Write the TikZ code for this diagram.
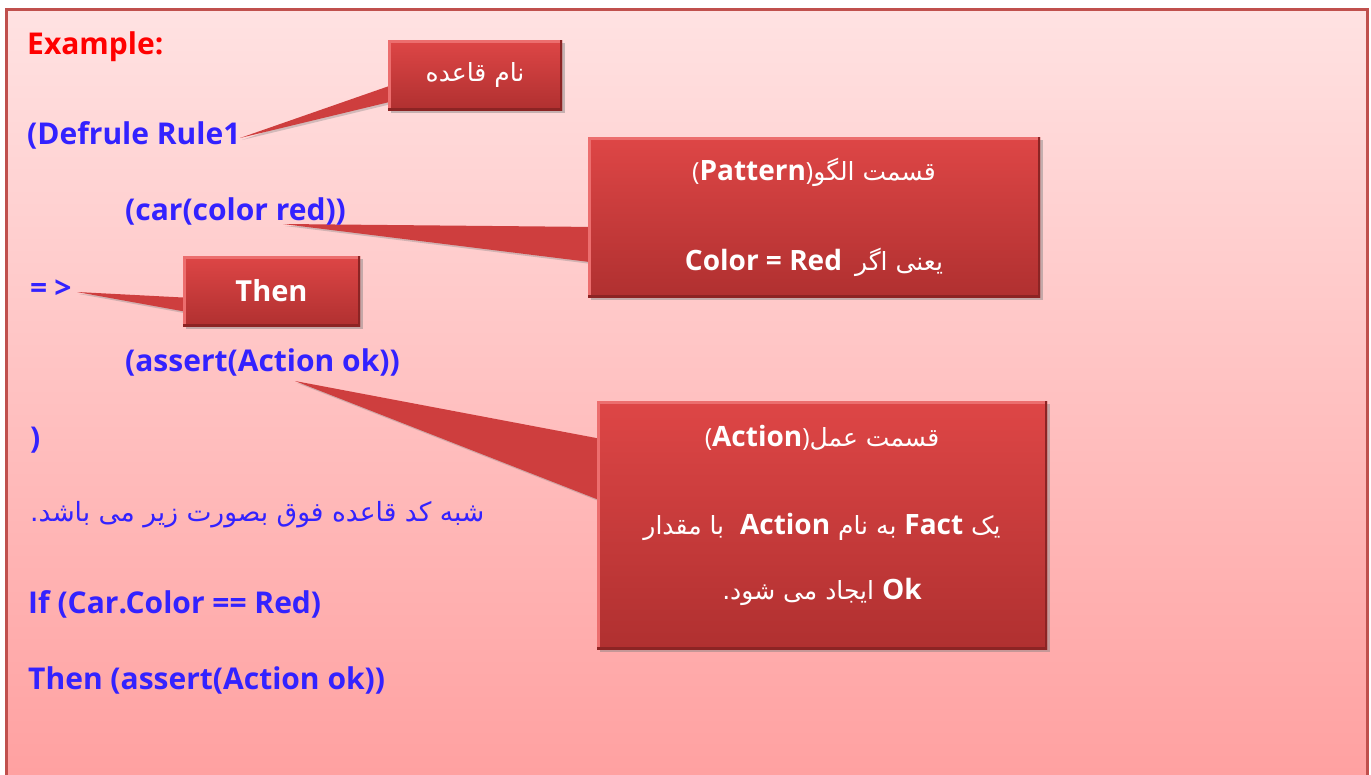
\documentclass[tikz,border=0pt]{standalone}
\usepackage{fontspec}
\setmainfont{Open Sans}
\newfontfamily\farsi[Script=Arabic]{DejaVu Sans}
\TeXXeTstate=1
\usetikzlibrary{shadows,backgrounds}

\definecolor{codeblue}{RGB}{51,34,255}
\definecolor{framered}{RGB}{192,80,77}
\definecolor{pagetop}{RGB}{255,226,226}
\definecolor{pagebot}{RGB}{255,160,160}
\definecolor{boxtop}{RGB}{222,70,70}
\definecolor{boxbot}{RGB}{176,48,48}
\definecolor{bevellight}{RGB}{236,110,110}
\definecolor{beveldark}{RGB}{140,36,36}
\definecolor{wedgered}{RGB}{206,62,62}

\newcommand\lb[1]{{\normalfont\fontsize{28}{29}\selectfont\bfseries #1}}

\tikzset{
  code/.style={anchor=west, inner sep=0pt, text=codeblue,
    font=\fontsize{30}{36}\selectfont\bfseries},
  callout/.style={shade, top color=boxtop, bottom color=boxbot,
    drop shadow={shadow xshift=3pt, shadow yshift=-3pt, opacity=.45},
    text=white, align=center, inner sep=0pt,
    font=\fontsize{25}{29}\selectfont,
    path picture={
      \draw[bevellight, line width=5pt] (path picture bounding box.south west)
        -- (path picture bounding box.north west) -- (path picture bounding box.north east);
      \draw[beveldark, line width=5pt] (path picture bounding box.north east)
        -- (path picture bounding box.south east) -- (path picture bounding box.south west);
    }},
  pointer/.style={fill=wedgered,
    drop shadow={shadow xshift=2pt, shadow yshift=-2pt, opacity=.35}},
}

\begin{document}
\begin{tikzpicture}[x=1pt, y=-1pt]
\useasboundingbox (0,0) rectangle (1371,774);

% the code
\node[code, text=red] (example) at (27,47) {Example:};
\node[code] (defrule) at (27,135) {(Defrule Rule1};
\node[code] (carline) at (125,211) {(car(color red))};
\node[code] (arrow) at (30,289) {=\hspace{7pt}>};
\node[code] (assertline) at (125,362) {(assert(Action ok))};
\node[code] (closeparen) at (30,440) {)};
\node[code, font=\fontsize{26.5}{32}\selectfont] (pseudo) at (30,515)
  {\farsi\beginR شبه کد قاعده فوق بصورت زیر می باشد.\endR};
\node[code] (ifline) at (28,604) {If (Car.Color == Red)};
\node[code] (thenline) at (28,680) {Then (assert(Action ok))};

% callouts
\node[callout, minimum width=174, minimum height=70] (rulename) at (475,75)
  {\farsi\beginR نام قاعده\endR};
\node[callout, minimum width=452, minimum height=160] (pattern) at (814,217)
  {{(\lb{Pattern}){\farsi\beginR قسمت الگو\endR}}\\[61pt]
   {\lb{Color = Red}\ \ {\farsi\beginR یعنی اگر\endR}}};
\node[callout, minimum width=177, minimum height=70, font=\fontsize{29}{30}\selectfont\bfseries]
  (thenbox) at (271.5,291) {Then};
\node[callout, minimum width=450, minimum height=248] (action) at (822,525) {};
\node[text=white, align=center, inner sep=0pt, font=\fontsize{25}{29}\selectfont]
  (actiontext) at (822,515)
  {{(\lb{Action}){\farsi\beginR قسمت عمل\endR}}\\[59pt]
   {\farsi\beginR یک \lb{Fact} به نام \lb{Action}\ \ با مقدار\endR}\\[36pt]
   {\farsi\beginR\lb{Ok} ایجاد می شود.\endR}};

\coordinate (tiprule) at (240,138);
\coordinate (tipcar) at (283,224);
\coordinate (tiparrow) at (77,292);
\coordinate (tipassert) at (295,381);

\begin{scope}[on background layer]
  \draw[framered, line width=3pt, top color=pagetop, bottom color=pagebot]
    (6.5,9.5) rectangle (1367,785);
  \fill[pointer] (tiprule) -- ([xshift=10pt, yshift=-8pt]rulename.west)
    -- ([xshift=10pt, yshift=-25pt]rulename.west) -- cycle;
  \fill[pointer] (tipcar) -- ([xshift=10pt, yshift=-10pt]pattern.west)
    -- ([xshift=10pt, yshift=-46pt]pattern.west) -- cycle;
  \fill[pointer] (tiparrow) -- ([xshift=10pt, yshift=-7pt]thenbox.west)
    -- ([xshift=10pt, yshift=-22pt]thenbox.west) -- cycle;
  \fill[pointer] (tipassert) -- ([xshift=10pt, yshift=85pt]action.west)
    -- ([xshift=10pt, yshift=22pt]action.west) -- cycle;
\end{scope}
\end{tikzpicture}
\end{document}
